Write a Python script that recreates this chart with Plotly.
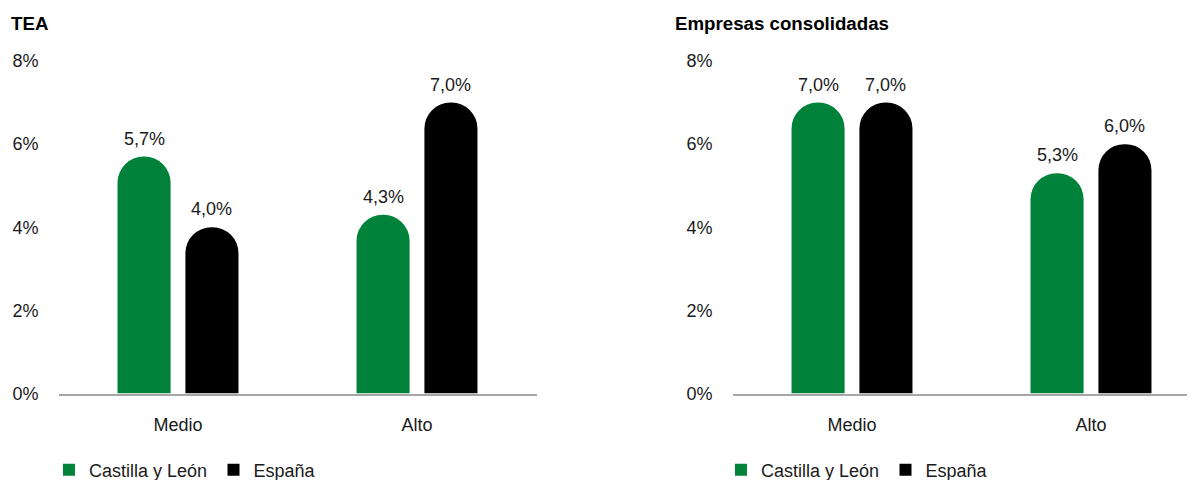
import plotly.graph_objects as go

# ---- data ----
categories = ["Medio", "Alto"]
series_names = ["Castilla y León", "España"]
panel_titles = ["TEA", "Empresas consolidadas"]
tea_cyl = [5.7, 4.3]
tea_esp = [4.0, 7.0]
cons_cyl = [7.0, 5.3]
cons_esp = [7.0, 6.0]
y_ticks = [0, 2, 4, 6, 8]
y_ticklabels = ["0%", "2%", "4%", "6%", "8%"]

# ---- style ----
# the page body has an 8px margin, so the figure is drawn 8px smaller
W, H = 1187, 472
GREEN = "#00823A"
BLACK = "#000000"
FONT = "Liberation Sans, Arial, sans-serif"
TXT = "#1a1a1a"
BAR_W = 0.222
OFFS = [-0.253, 0.031]
COLORS = [GREEN, BLACK]

def fmt(v):
    return f"{v:.1f}".replace(".", ",") + "%"

fig = go.Figure()
panels = [(tea_cyl, tea_esp), (cons_cyl, cons_esp)]
annotations = []
xs = list(range(len(categories)))
for p, series in enumerate(panels):
    xa = "x" if p == 0 else "x2"
    ya = "y" if p == 0 else "y2"
    lg = "legend" if p == 0 else "legend2"
    for s, vals in enumerate(series):
        fig.add_trace(go.Bar(
            x=xs, y=vals, width=BAR_W, offset=OFFS[s],
            marker=dict(color=COLORS[s], line=dict(width=0)),
            name=series_names[s], showlegend=False, xaxis=xa, yaxis=ya,
            hoverinfo="skip",
        ))
        for i, v in enumerate(vals):
            annotations.append(dict(
                x=i + OFFS[s] + BAR_W / 2, y=v, xref=xa, yref=ya,
                text=fmt(v), showarrow=False, yanchor="bottom", yshift=6,
                font=dict(family=FONT, size=18, color=TXT),
            ))
    # legend entries (square swatches)
    for s in range(len(series)):
        fig.add_trace(go.Scatter(
            x=[None], y=[None], mode="markers",
            marker=dict(symbol="square", size=12, color=COLORS[s]),
            name=series_names[s], legend=lg, xaxis=xa, yaxis=ya,
            showlegend=True, hoverinfo="skip",
        ))

title_x = [1, 665]
for p, t in enumerate(panel_titles):
    annotations.append(dict(
        x=title_x[p] / W, y=1 - 15 / H, xref="paper", yref="paper",
        xanchor="left", yanchor="middle", showarrow=False,
        text=f"<b>{t}</b>",
        font=dict(family=FONT, size=18.7, color="#000000"),
    ))

ydom = [(H - 385.5) / H, (H - 53) / H]
common_x = dict(
    tickvals=xs, ticktext=categories, showline=True, linecolor="#A6A6A6",
    linewidth=2, showgrid=False, zeroline=False, ticks="",
    ticklabelstandoff=14, tickfont=dict(family=FONT, size=18, color=TXT),
    fixedrange=True,
)
common_y = dict(
    range=[0, 8], tickvals=y_ticks, ticktext=y_ticklabels, showgrid=False,
    zeroline=False, showline=False, ticks="", ticklabelstandoff=19,
    tickfont=dict(family=FONT, size=18, color=TXT), domain=ydom,
    fixedrange=True,
)
legend_common = dict(
    orientation="h", xanchor="left", yanchor="middle", y=10 / H,
    font=dict(family=FONT, size=18, color=TXT), bgcolor="rgba(0,0,0,0)",
    entrywidth=119.5, entrywidthmode="pixels", traceorder="normal",
)

fig.update_layout(
    width=W, height=H,
    margin=dict(l=0, r=0, t=0, b=0, autoexpand=False),
    paper_bgcolor="white", plot_bgcolor="white",
    barmode="overlay",
    barcornerradius="50%",
    showlegend=True,
    xaxis=dict(domain=[50.5 / W, 528.5 / W], range=[-0.5, 1.5], anchor="y", **common_x),
    yaxis=dict(anchor="x", **common_y),
    xaxis2=dict(domain=[724.5 / W, 1], range=[-0.5, 1.5 - 15.5 / 239], anchor="y2", **common_x),
    yaxis2=dict(anchor="x2", **common_y),
    legend=dict(x=41 / W, **legend_common),
    legend2=dict(x=713 / W, **legend_common),
    annotations=annotations,
)

fig.write_html("out.html")
